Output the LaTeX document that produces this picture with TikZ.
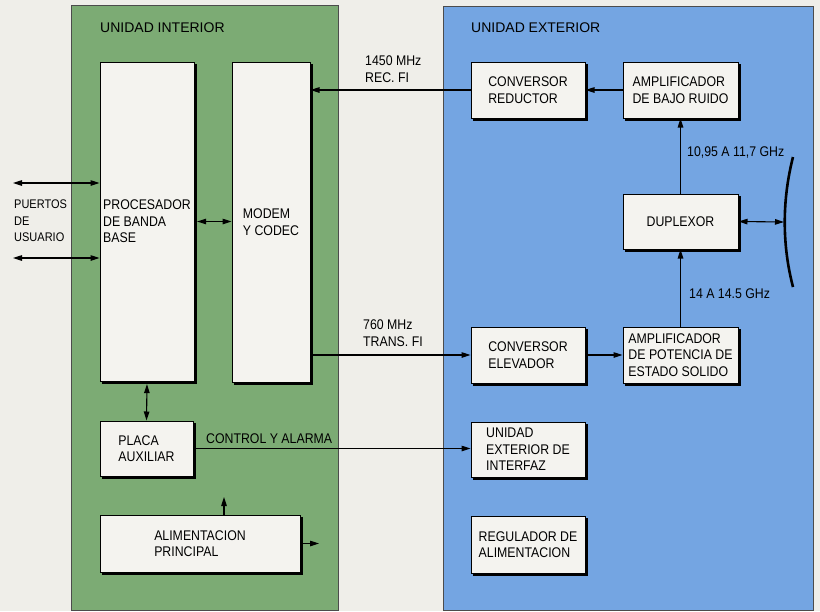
\documentclass[tikz,border=0pt]{standalone}
\usepackage{fontspec}
\setmainfont{Liberation Sans}[FakeStretch=0.88]
\newfontfamily\titlefont{Liberation Sans}
\usetikzlibrary{arrows.meta}
\definecolor{bgc}{HTML}{EFEEE9}
\definecolor{greenp}{HTML}{7CAB74}
\definecolor{bluep}{HTML}{74A5E2}
\definecolor{boxf}{HTML}{F4F3EF}
\begin{document}
\begin{tikzpicture}[x=1pt,y=-1pt,
  font=\fontsize{14}{16.5}\selectfont,
  box/.style={draw=black,line width=1pt,fill=boxf,align=left,inner sep=0pt},
  conn/.style={line width=1.1pt,-{Triangle[length=9pt,width=5.5pt]}},
  dconn/.style={line width=1.1pt,{Triangle[length=9pt,width=5.5pt]}-{Triangle[length=9pt,width=5.5pt]}},
  lbl/.style={anchor=west,align=left,inner sep=0pt},
  panel/.style={draw=black!70,line width=0.8pt}]
\useasboundingbox (0,0) rectangle (820,611);
\fill[bgc] (0,0) rectangle (820,611);
% panels
\draw[panel,fill=greenp] (71,5) rectangle (338,610);
\draw[panel,fill=bluep] (443,6) rectangle (813,610);
\node[lbl,font=\titlefont\fontsize{14}{16}\selectfont] (tin) at (100,28) {UNIDAD INTERIOR};
\node[lbl,font=\titlefont\fontsize{14}{16}\selectfont] (tex) at (471,28) {UNIDAD EXTERIOR};
% interior boxes
\node[box,minimum width=94pt,minimum height=319pt] (proc) at (147,221.5) {PROCESADOR\\DE BANDA\\BASE};
\node[box,minimum width=78pt,minimum height=320pt] (modem) at (271,222) {MODEM\\Y CODEC};
\node[box,minimum width=93pt,minimum height=55pt] (placa) at (146.5,448.5) {PLACA\\AUXILIAR};
\node[box,minimum width=200pt,minimum height=57pt] (alim) at (200,543.5) {ALIMENTACION\\PRINCIPAL};
% exterior boxes
\node[box,minimum width=114pt,minimum height=56pt] (convred) at (528,90) {CONVERSOR\\REDUCTOR};
\node[box,minimum width=115pt,minimum height=56pt] (lna) at (680.5,90) {AMPLIFICADOR\\DE BAJO RUIDO};
\node[box,minimum width=115pt,minimum height=55pt] (dup) at (680.5,221.5) {DUPLEXOR};
\node[box,minimum width=114pt,minimum height=56pt] (convel) at (528,355) {CONVERSOR\\ELEVADOR};
\node[box,minimum width=115pt,minimum height=56pt] (ssp) at (680.5,355) {AMPLIFICADOR\\DE POTENCIA DE\\ESTADO SOLIDO};
\node[box,minimum width=114pt,minimum height=55pt] (ueif) at (528,449.5) {UNIDAD\\EXTERIOR DE\\INTERFAZ};
\node[box,minimum width=114pt,minimum height=57pt] (reg) at (528,544.5) {REGULADOR DE\\ALIMENTACION};
% shadows (right and bottom edges)
\foreach \n in {proc,modem,placa,alim,convred,lna,dup,convel,ssp,ueif,reg}{
  \fill[black] ([shift={(0,2.5)}]\n.north east) rectangle ([shift={(2.6,2.6)}]\n.south east);
  \fill[black] ([shift={(2.5,0)}]\n.south west) rectangle ([shift={(2.6,2.6)}]\n.south east);
}
% labels
\node[lbl] (l1450) at (365,69) {1450 MHz\\REC. FI};
\node[lbl] (l760) at (363,333) {760 MHz\\TRANS. FI};
\node[lbl] (lrx) at (687,153) {10,95 A 11,7 GHz};
\node[lbl] (ltx) at (689,294) {14 A 14.5 GHz};
\node[lbl] (lctl) at (206,439) {CONTROL Y ALARMA};
\node[lbl,font=\fontsize{12.5}{16.5}\selectfont] (lusr) at (14,221) {PUERTOS\\DE\\USUARIO};
% coordinates
\coordinate (u1) at (13,183);
\coordinate (u2) at (13,258);
\coordinate (ant) at (784,222);
\coordinate (alimup) at (224,497);
\coordinate (alimout) at (319,543);
\coordinate (a1) at (793,157);
\coordinate (a2) at (793,287);
% connectors
\draw[conn] (convred.west) -- (modem.east |- convred.west);
\draw[conn] (lna.west) -- (convred.east);
\draw[conn] (dup.north) -- (lna.south);
\draw[conn] (ssp.north) -- (dup.south);
\draw[dconn] (dup.east) -- (ant);
\draw[line width=2.6pt] (a1) .. controls (782,200) and (782,245) .. (a2);
\draw[conn] ([xshift=2.6pt]modem.east |- convel.west) -- (convel.west);
\draw[conn] ([xshift=2.6pt]convel.east) -- (ssp.west);
\draw[conn] ([xshift=2.6pt]placa.east) -- (ueif.west |- placa.east);
\draw[dconn] ([xshift=2.6pt]proc.east) -- (modem.west |- proc.east);
\draw[dconn] ([yshift=-2.6pt]proc.south) -- (placa.north);
\draw[conn] (alimup |- alim.north) -- (alimup);
\draw[conn] ([xshift=2.6pt]alim.east) -- (alimout |- alim.east);
\draw[dconn] (u1) -- (proc.west |- u1);
\draw[dconn] (u2) -- (proc.west |- u2);
\end{tikzpicture}
\end{document}
